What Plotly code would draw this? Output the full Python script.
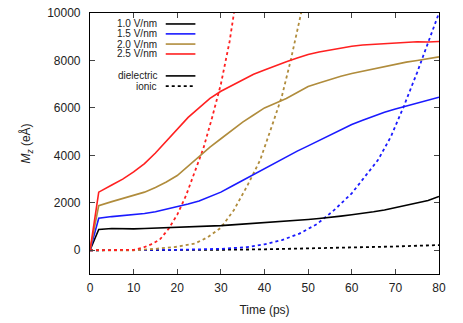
import plotly.graph_objects as go

# ---- data ----
t_diel = [0, 2, 5, 7.5, 10, 12.5, 15, 17.5, 20, 22.5, 25, 27.5, 30, 32.5, 35, 37.5, 40,
          42.5, 45, 47.5, 50, 52.5, 55, 57.5, 60, 62.5, 65, 67.5, 70, 72.5, 75, 77.5, 80]
diel_10 = [0, 880, 920, 905, 900, 915, 930, 945, 960, 975, 990, 1015, 1040, 1070, 1100, 1120, 1150,
           1190, 1230, 1260, 1300, 1340, 1380, 1440, 1500, 1550, 1620, 1700, 1800, 1880, 2000, 2100, 2270]
diel_15 = [0, 1350, 1420, 1460, 1500, 1550, 1620, 1720, 1850, 1950, 2080, 2250, 2450, 2700, 2950, 3200, 3450,
           3700, 3950, 4180, 4400, 4620, 4850, 5080, 5300, 5480, 5650, 5820, 5950, 6080, 6200, 6330, 6450]
diel_20 = [0, 1880, 2050, 2180, 2300, 2450, 2650, 2880, 3150, 3550, 3950, 4350, 4700, 5050, 5400, 5700, 6000,
           6200, 6400, 6650, 6900, 7050, 7200, 7330, 7450, 7550, 7650, 7750, 7850, 7930, 8000, 8080, 8150]
diel_25 = [0, 2450, 2750, 3000, 3300, 3650, 4100, 4600, 5100, 5600, 6000, 6400, 6700, 6950, 7200, 7420, 7600,
           7780, 7950, 8100, 8250, 8360, 8450, 8530, 8600, 8650, 8680, 8700, 8740, 8760, 8790, 8780, 8800]

t_ion_10 = [0, 10, 20, 30, 40, 50, 60, 70, 80]
ion_10 = [0, 0, 10, 20, 40, 70, 110, 160, 220]
t_ion_15 = [0, 10, 20, 30, 36, 40, 44, 48, 52, 56, 60, 63, 66, 69, 72, 75, 78, 80]
ion_15 = [0, 0, 20, 60, 130, 250, 430, 700, 1100, 1700, 2400, 3100, 3800, 4800, 6100, 7500, 9000, 10000]
t_ion_20 = [0, 10, 15, 20, 24, 27, 30, 33, 36, 39, 42, 44, 46, 48, 49]
ion_20 = [0, 0, 60, 150, 280, 550, 950, 1700, 2700, 3800, 5400, 6500, 8000, 9600, 10500]
t_ion_25 = [0, 5, 10, 12, 14, 16, 18, 20, 22, 24, 26, 28, 30, 32, 34]
ion_25 = [0, 0, 20, 100, 250, 450, 900, 1500, 2300, 3300, 4300, 5600, 7000, 8800, 11200]

labels = ["1.0 V/nm", "1.5 V/nm", "2.0 V/nm", "2.5 V/nm"]
colors = ["#000000", "#1a1aff", "#b08c3c", "#ff2020"]

x_ticks = [0, 10, 20, 30, 40, 50, 60, 70, 80]
y_ticks = [0, 2000, 4000, 6000, 8000, 10000]
y_ticktext = ["0", "2000", "4000", "6000", "8000", "10000"]

fig = go.Figure()
diel = [diel_10, diel_15, diel_20, diel_25]
ion_t = [t_ion_10, t_ion_15, t_ion_20, t_ion_25]
ion = [ion_10, ion_15, ion_20, ion_25]
for i in range(4):
    fig.add_trace(go.Scatter(x=ion_t[i], y=ion[i], mode="lines",
                             line=dict(color=colors[i], width=1.8, dash="3px,3px"),
                             showlegend=False))
for i in range(4):
    fig.add_trace(go.Scatter(x=t_diel, y=diel[i], mode="lines",
                             line=dict(color=colors[i], width=1.6),
                             showlegend=False))

# custom gnuplot-style legend
leg_y = [0.958, 0.920, 0.881, 0.843]
font_leg = dict(family="Liberation Sans, Arial, sans-serif", size=10, color="#222222")
for i in range(4):
    fig.add_annotation(x=0.196, y=leg_y[i], xref="paper", yref="paper", text=labels[i],
                       showarrow=False, xanchor="right", yanchor="middle", font=font_leg,
                       borderpad=0)
    fig.add_shape(type="line", xref="paper", yref="paper", x0=0.217, x1=0.302,
                  y0=leg_y[i], y1=leg_y[i], line=dict(color=colors[i], width=1.6))
for yv, txt, dash in [(0.759, "dielectric", "solid"), (0.720, "ionic", "3px,3px")]:
    fig.add_annotation(x=0.196, y=yv, xref="paper", yref="paper", text=txt,
                       showarrow=False, xanchor="right", yanchor="middle", font=font_leg,
                       borderpad=0)
    fig.add_shape(type="line", xref="paper", yref="paper", x0=0.217, x1=0.302,
                  y0=yv, y1=yv, line=dict(color="#000000", width=1.6, dash=dash))

axis_font = dict(family="Liberation Sans, Arial, sans-serif", size=12, color="#222222")
fig.update_layout(
    width=463, height=323,
    margin=dict(l=89.5, r=24, t=13, b=49),
    paper_bgcolor="white", plot_bgcolor="white",
    font=axis_font,
    xaxis=dict(range=[0, 80], tickvals=x_ticks, ticks="inside", ticklen=5,
               showline=True, linecolor="black", linewidth=1.2, mirror="ticks",
               showgrid=False, zeroline=False, tickfont=axis_font, ticklabelstandoff=2,
               automargin=False,
               title=dict(text="Time (ps)", font=axis_font, standoff=12)),
    yaxis=dict(range=[-1000, 10000], tickvals=y_ticks, ticktext=y_ticktext,
               ticks="inside", ticklen=5,
               showline=True, linecolor="black", linewidth=1.2, mirror="ticks",
               showgrid=False, zeroline=False, tickfont=axis_font, ticklabelstandoff=6,
               automargin=False,
               title=dict(text="<i>M<sub>z</sub></i> (eÅ)", font=axis_font, standoff=13)),
)

fig.write_html("out.html")
